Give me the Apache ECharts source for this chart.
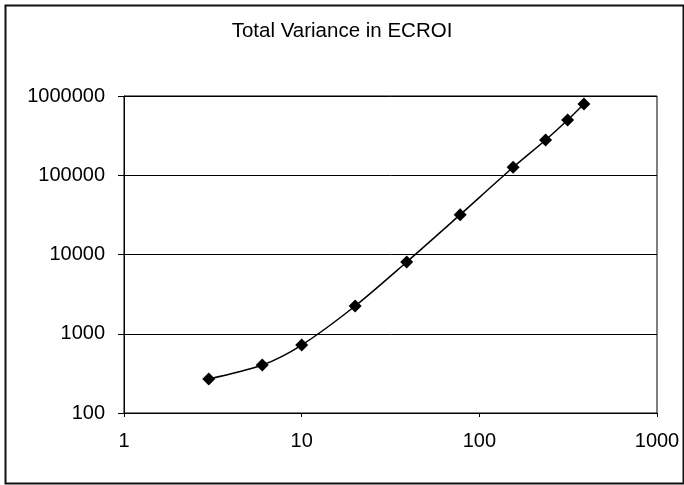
<!DOCTYPE html>
<html>
<head>
<meta charset="utf-8">
<script src="https://cdn.jsdelivr.net/npm/echarts@6/dist/echarts.min.js"></script>
<style>
html,body{margin:0;padding:0;background:#fff;}
#chart{width:684px;height:485px;}
</style>
</head>
<body>
<div id="chart"></div>
<script>
var titleText = 'Total Variance in ECROI';
var xValues = [3, 6, 10, 20, 39, 78, 155, 236, 314, 388];
var yValues = [269, 403, 721, 2240, 8040, 31800, 126000, 278600, 498000, 793000];

var data = xValues.map(function (x, i) { return [x, yValues[i]]; });
var font = '"Liberation Sans", Arial, sans-serif';

var chart = echarts.init(document.getElementById('chart'), null, {renderer: 'canvas'});
chart.setOption({
  animation: false,
  backgroundColor: '#ffffff',
  title: {
    text: titleText,
    left: 'center',
    top: 16,
    textStyle: {fontFamily: font, fontSize: 20.5, fontWeight: 'normal', color: '#000'}
  },
  graphic: [{
    type: 'rect',
    left: 3, top: 3,
    shape: {width: 678, height: 478},
    style: {fill: 'none', stroke: '#111', lineWidth: 2},
    silent: true
  }],
  grid: {
    left: 124, right: 27, top: 96, bottom: 72,
    show: true, borderColor: '#000', borderWidth: 1, backgroundColor: 'transparent'
  },
  xAxis: {
    type: 'log', logBase: 10, min: 1, max: 1000,
    axisLine: {show: true, lineStyle: {color: '#000', width: 1}},
    axisTick: {show: true, length: 4, lineStyle: {color: '#000'}},
    minorTick: {show: false},
    splitLine: {show: false},
    axisLabel: {
      margin: 18, color: '#000', fontFamily: font, fontSize: 20,
      formatter: function (v) { return String(Math.round(v)); }
    }
  },
  yAxis: {
    type: 'log', logBase: 10, min: 100, max: 1000000,
    axisLine: {show: true, lineStyle: {color: '#000', width: 1}},
    axisTick: {show: true, length: 6, lineStyle: {color: '#000'}},
    splitLine: {show: true, lineStyle: {color: '#000', width: 1}},
    axisLabel: {
      margin: 19, color: '#000', fontFamily: font, fontSize: 20,
      formatter: function (v) { return String(Math.round(v)); }
    }
  },
  series: [{
    type: 'line',
    data: data,
    smooth: 0.3,
    symbol: 'diamond',
    symbolSize: 13,
    lineStyle: {color: '#000', width: 1.5},
    itemStyle: {color: '#000'}
  }]
});
</script>
</body>
</html>
